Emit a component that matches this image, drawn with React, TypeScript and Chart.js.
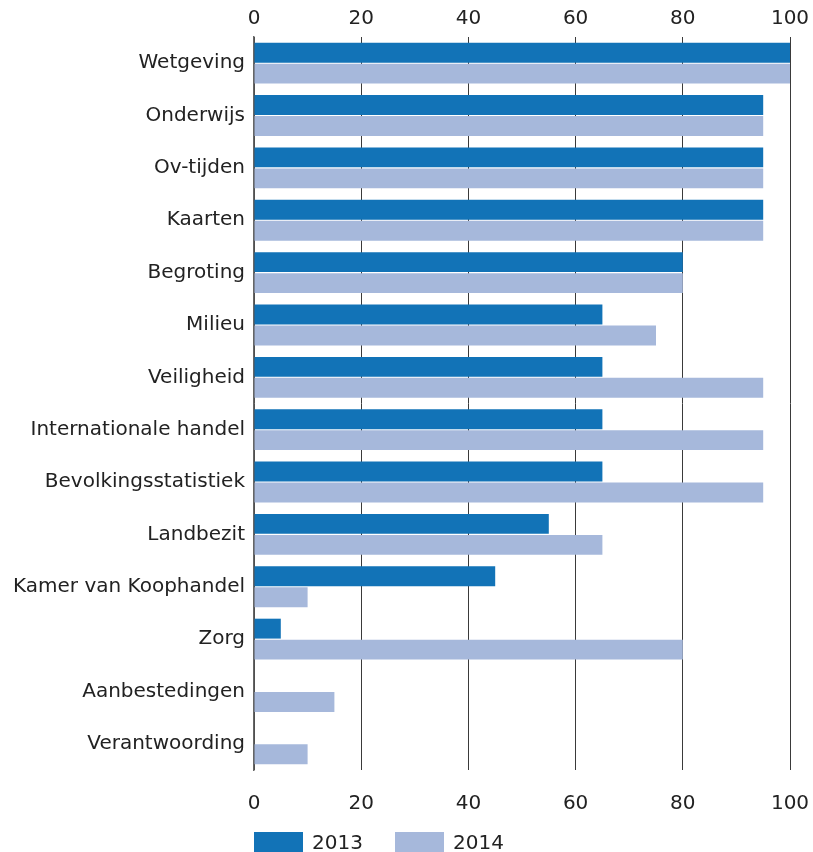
import React, { useEffect, useRef } from "react";
import { Chart, registerables } from "chart.js";

Chart.register(...registerables);

const categories = [
  "Wetgeving",
  "Onderwijs",
  "Ov-tijden",
  "Kaarten",
  "Begroting",
  "Milieu",
  "Veiligheid",
  "Internationale handel",
  "Bevolkingsstatistiek",
  "Landbezit",
  "Kamer van Koophandel",
  "Zorg",
  "Aanbestedingen",
  "Verantwoording",
];
const values2013: (number | null)[] = [100, 95, 95, 95, 80, 65, 65, 65, 65, 55, 45, 5, null, null];
const values2014: (number | null)[] = [100, 95, 95, 95, 80, 75, 95, 95, 95, 65, 10, 80, 15, 10];
const seriesLabels = ["2013", "2014"];
const colors = ["#1273b7", "#a6b8db"];
const xTicks = { min: 0, max: 100, step: 20 };

const FONT = "'DejaVu Sans', sans-serif";

export default function App() {
  const ref = useRef<HTMLCanvasElement | null>(null);
  useEffect(() => {
    if (!ref.current) return;
    const tickFont = { family: FONT, size: 20 };
    const chart = new Chart(ref.current, {
      type: "bar",
      data: {
        labels: categories,
        datasets: [
          {
            label: seriesLabels[0],
            data: values2013,
            backgroundColor: colors[0],
            categoryPercentage: 0.8,
            barPercentage: 0.95,
          },
          {
            label: seriesLabels[1],
            data: values2014,
            backgroundColor: colors[1],
            categoryPercentage: 0.8,
            barPercentage: 0.95,
          },
        ],
      },
      options: {
        indexAxis: "y",
        animation: false,
        responsive: false,
        maintainAspectRatio: false,
        layout: { padding: { left: 0, right: 23, top: 0, bottom: 30 } },
        plugins: { legend: { display: false }, tooltip: { enabled: false } },
        scales: {
          x: {
            position: "bottom",
            min: xTicks.min,
            max: xTicks.max,
            ticks: { stepSize: xTicks.step, color: "#222", font: tickFont, padding: 22 },
            grid: { color: "#3a3a3a", lineWidth: 1, drawTicks: false },
            border: { display: false },
            afterFit: (s: any) => {
              s.height = 52;
              s.paddingLeft = 0;
              s.paddingRight = 0;
            },
          },
          x2: {
            position: "top",
            min: xTicks.min,
            max: xTicks.max,
            ticks: { stepSize: xTicks.step, color: "#222", font: tickFont, padding: 6 },
            grid: { display: false, drawTicks: false },
            border: { display: false },
            afterFit: (s: any) => {
              s.height = 37;
              s.paddingLeft = 0;
              s.paddingRight = 0;
            },
          },
          y: {
            ticks: { color: "#222", font: tickFont, padding: 9 },
            grid: { display: false, drawTicks: false },
            border: { display: true, color: "#666", width: 1.5 },
            afterFit: (s: any) => {
              s.width = 254;
            },
          },
        },
      },
    } as any);
    return () => chart.destroy();
  }, []);

  const legendItem = (i: number, left: number) => (
    <div
      key={i}
      style={{ position: "absolute", left, top: 832, display: "flex", alignItems: "center" }}
    >
      <div style={{ width: 49, height: 20, background: colors[i] }} />
      <span style={{ marginLeft: 9, fontFamily: FONT, fontSize: 20, color: "#222", lineHeight: "20px" }}>
        {seriesLabels[i]}
      </span>
    </div>
  );

  return (
    <div style={{ position: "absolute", left: 0, top: 0, width: 813, height: 852, background: "#fff", overflow: "hidden" }}>
      <canvas ref={ref} width={813} height={852} style={{ display: "block", width: 813, height: 852 }} />
      {legendItem(0, 254)}
      {legendItem(1, 395)}
    </div>
  );
}
